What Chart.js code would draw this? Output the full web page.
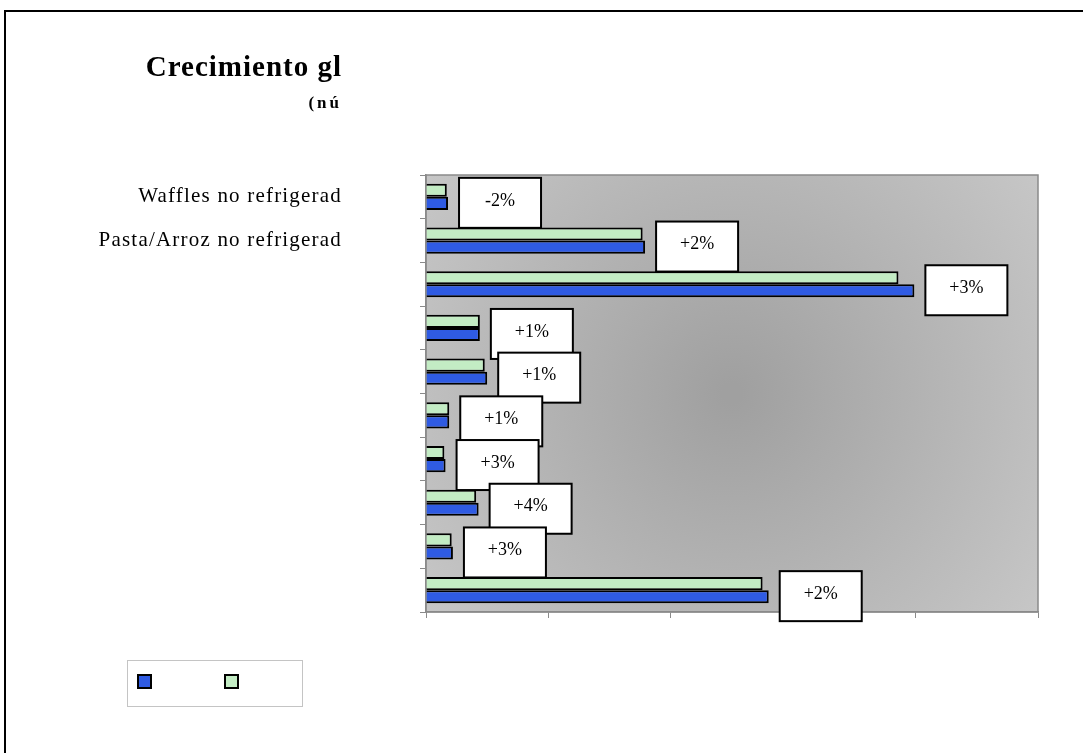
<!DOCTYPE html>
<html>
<head>
<meta charset="utf-8">
<script src="https://cdn.jsdelivr.net/npm/chart.js@4"></script>
<style>
  html, body { margin: 0; padding: 0; background: #fff; }
  #wrap { position: relative; width: 1083px; height: 753px; }
</style>
</head>
<body>
<div id="wrap"><canvas id="c"></canvas></div>
<script>
// data (x axis has no labels: units of 1/10 of a tick interval)
const categories = ['Waffles no refrigerad', 'Pasta/Arroz no refrigerad', '', '', '', '', '', '', '', ''];
const seriesNames = ['Serie 2', 'Serie 1'];
const greenValues = [1.7, 17.7, 38.6, 4.4, 4.8, 1.9, 1.5, 4.1, 2.1, 27.5];
const blueValues  = [1.8, 17.9, 39.9, 4.4, 5.0, 1.9, 1.6, 4.3, 2.2, 28.0];
const growthLabels = ['-2%', '+2%', '+3%', '+1%', '+1%', '+1%', '+3%', '+4%', '+3%', '+2%'];
const xTicks = [0, 10, 20, 30, 40, 50];

const SERIF = '"Liberation Serif", "Times New Roman", serif';
const BLUE = '#2f5be3';
const GREEN = '#c3ecc4';

// frame, title, plot background and legend box
const decor = {
  id: 'decor',
  beforeDraw(chart) {
    const { ctx, chartArea: a } = chart;
    ctx.save();
    ctx.strokeStyle = '#000';
    ctx.lineWidth = 2;
    ctx.strokeRect(5, 11, 1300, 1000);

    const cx = (a.left + a.right) / 2, cy = (a.top + a.bottom) / 2;
    const g = ctx.createRadialGradient(cx, cy, 10, cx, cy, 390);
    g.addColorStop(0, '#a0a0a0');
    g.addColorStop(1, '#c8c8c8');
    ctx.fillStyle = g;
    ctx.fillRect(a.left, a.top, a.right - a.left, a.bottom - a.top);
    ctx.strokeStyle = '#8a8a8a';
    ctx.lineWidth = 1.5;
    ctx.strokeRect(a.left, a.top, a.right - a.left, a.bottom - a.top);

    // title right edge shares the category label edge
    const y = chart.scales.y;
    const edge = y.right - y.options.grid.tickLength - y.options.ticks.padding;
    ctx.fillStyle = '#000';
    ctx.textAlign = 'right';
    ctx.textBaseline = 'alphabetic';
    ctx.font = 'bold 29px ' + SERIF;
    ctx.letterSpacing = '1px';
    ctx.fillText('Crecimiento gl', edge, 76);
    ctx.font = 'bold 17px ' + SERIF;
    ctx.letterSpacing = '3px';
    ctx.fillText('(nú', edge, 108);
    ctx.letterSpacing = '0px';

    // legend (series text is cut off in the original)
    ctx.strokeStyle = '#c4c4c4';
    ctx.lineWidth = 1;
    ctx.strokeRect(127.5, 660.5, 175, 46);
    const order = [1, 0];
    order.forEach((di, k) => {
      const ds = chart.data.datasets[di];
      const x = 138 + k * 87;
      ctx.fillStyle = ds.backgroundColor;
      ctx.fillRect(x, 675, 13, 13);
      ctx.strokeStyle = '#000';
      ctx.lineWidth = 2;
      ctx.strokeRect(x, 675, 13, 13);
    });
    ctx.restore();
    // loose spacing for the category labels drawn next
    ctx.letterSpacing = '1.2px';
  },
  beforeDatasetsDraw(chart) {
    chart.ctx.letterSpacing = '0px';
  },
  afterDatasetsDraw(chart) {
    const { ctx } = chart;
    const blueMeta = chart.getDatasetMeta(1);
    const yScale = chart.scales.y;
    ctx.save();
    growthLabels.forEach((txt, i) => {
      const bar = blueMeta.data[i];
      const left = bar.x + 11;
      const top = yScale.getPixelForValue(i) - 19;
      ctx.fillStyle = '#fff';
      ctx.fillRect(left, top, 82, 50);
      ctx.strokeStyle = '#000';
      ctx.lineWidth = 2;
      ctx.strokeRect(left, top, 82, 50);
      ctx.fillStyle = '#000';
      ctx.font = '18px ' + SERIF;
      ctx.textAlign = 'center';
      ctx.textBaseline = 'middle';
      ctx.fillText(txt, left + 41, top + 23);
    });
    ctx.restore();
  }
};

new Chart(document.getElementById('c'), {
  type: 'bar',
  data: {
    labels: categories,
    datasets: [
      { label: seriesNames[0], data: greenValues, backgroundColor: GREEN, borderColor: '#000', borderWidth: 2 },
      { label: seriesNames[1], data: blueValues, backgroundColor: BLUE, borderColor: '#000', borderWidth: 2 },
    ],
  },
  options: {
    indexAxis: 'y',
    responsive: true, maintainAspectRatio: false,
    animation: false,
    categoryPercentage: 0.6,
    barPercentage: 1.0,
    layout: { padding: { top: 175, right: 45, left: 0, bottom: 0 } },
    plugins: {
      legend: { display: false },
      tooltip: { enabled: false },
    },
    scales: {
      x: {
        min: xTicks[0], max: xTicks[xTicks.length - 1],
        afterBuildTicks(scale) { scale.ticks = xTicks.map(v => ({ value: v })); },
        afterFit(scale) { scale.height = 141; },
        ticks: { callback: () => '' },
        grid: { drawOnChartArea: false, drawTicks: true, tickLength: 6, color: '#8a8a8a' },
        border: { color: '#8a8a8a', width: 1.5 },
      },
      y: {
        afterFit(scale) { scale.width = 426; },
        ticks: { color: '#000', padding: 78, font: { family: SERIF, size: 21 } },
        grid: { drawOnChartArea: false, drawTicks: true, tickLength: 6, color: '#8a8a8a' },
        border: { color: '#8a8a8a', width: 1.5 },
      },
    },
  },
  plugins: [decor],
});
</script>
</body>
</html>
